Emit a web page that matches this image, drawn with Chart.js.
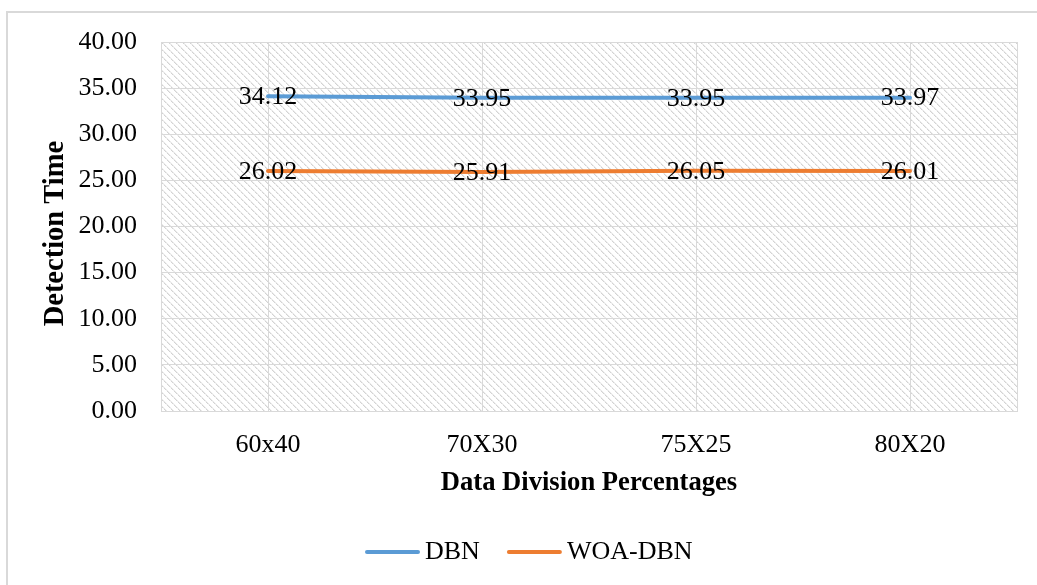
<!DOCTYPE html>
<html>
<head>
<meta charset="utf-8">
<script src="https://cdn.jsdelivr.net/npm/chart.js@4/dist/chart.umd.min.js"></script>
<style>
  html, body { margin: 0; padding: 0; background: #ffffff; overflow: hidden; }
  #wrap { position: relative; width: 1037px; height: 585px; }
</style>
</head>
<body>
<div id="wrap"><canvas id="chart" width="1037" height="585"></canvas></div>
<script>
// Detection time per train/test split
const categories = ['60x40', '70X30', '75X25', '80X20'];
const dbnTimes = [34.12, 33.95, 33.95, 33.97];
const woaDbnTimes = [26.02, 25.91, 26.05, 26.01];
const seriesNames = ['DBN', 'WOA-DBN'];
const seriesColors = ['#5B9BD5', '#ED7D31'];
const yMin = 0, yMax = 40, yStep = 5;

const SERIF = "'Liberation Serif', 'Times New Roman', serif";
const GRID = '#d9d9d9';

// Diagonal hatch fill for the plot area
function makeHatch(ctx) {
  const n = 7;
  const tile = document.createElement('canvas');
  tile.width = n; tile.height = n;
  const g = tile.getContext('2d');
  for (let i = 0; i < n; i++) {
    g.fillStyle = (i % 3 === 2) ? '#ededed' : '#d3d3d3';
    g.fillRect(i, i, 1, 1);
    g.fillStyle = '#ebebeb';
    g.fillRect((i + 1) % n, i, 1, 1);
  }
  return ctx.createPattern(tile, 'repeat');
}

const decorPlugin = {
  id: 'decor',
  beforeDraw(chart) {
    const { ctx, chartArea: a } = chart;
    ctx.save();
    // outer frame
    ctx.fillStyle = GRID;
    ctx.fillRect(6, 11, chart.width, 2);
    ctx.fillRect(6, 11, 2, chart.height);
    // hatched plot background
    ctx.fillStyle = makeHatch(ctx);
    ctx.fillRect(a.left, a.top, a.right - a.left, a.bottom - a.top);
    ctx.restore();
  },
  afterDatasetsDraw(chart) {
    const { ctx } = chart;
    ctx.save();
    ctx.font = '26px ' + SERIF;
    ctx.fillStyle = '#000000';
    ctx.textAlign = 'center';
    ctx.textBaseline = 'middle';
    chart.data.datasets.forEach((ds, i) => {
      const meta = chart.getDatasetMeta(i);
      meta.data.forEach((pt, j) => {
        ctx.fillText(ds.data[j].toFixed(2), pt.x, pt.y + 1);
      });
    });
    ctx.restore();
  },
  afterDraw(chart) {
    const { ctx, chartArea: a } = chart;
    ctx.save();
    // right edge of the plot box
    ctx.strokeStyle = GRID;
    ctx.lineWidth = 1;
    ctx.beginPath();
    ctx.moveTo(Math.round(a.right) + 0.5, a.top);
    ctx.lineTo(Math.round(a.right) + 0.5, a.bottom);
    ctx.stroke();

    // legend
    ctx.font = '26px ' + SERIF;
    ctx.textBaseline = 'middle';
    ctx.textAlign = 'left';
    let x = 365;
    const y = 552;
    chart.data.datasets.forEach((ds) => {
      ctx.strokeStyle = ds.borderColor;
      ctx.lineWidth = 4;
      ctx.lineCap = 'round';
      ctx.beginPath();
      ctx.moveTo(x + 2, y);
      ctx.lineTo(x + 53, y);
      ctx.stroke();
      ctx.fillStyle = '#000000';
      ctx.fillText(ds.label, x + 60, y);
      x += 60 + ctx.measureText(ds.label).width + 27;
    });
    ctx.restore();
  }
};

new Chart(document.getElementById('chart'), {
  type: 'line',
  data: {
    labels: categories,
    datasets: [
      {
        label: seriesNames[0],
        data: dbnTimes,
        borderColor: seriesColors[0],
        backgroundColor: seriesColors[0],
        borderWidth: 4,
        borderCapStyle: 'round',
        pointRadius: 0,
        tension: 0,
        fill: false
      },
      {
        label: seriesNames[1],
        data: woaDbnTimes,
        borderColor: seriesColors[1],
        backgroundColor: seriesColors[1],
        borderWidth: 4,
        borderCapStyle: 'round',
        pointRadius: 0,
        tension: 0,
        fill: false
      }
    ]
  },
  options: {
    responsive: false,
    devicePixelRatio: 1,
    animation: false,
    layout: { padding: { top: 42, right: 20, bottom: 70, left: 0 } },
    plugins: {
      legend: { display: false },
      tooltip: { enabled: false }
    },
    scales: {
      x: {
        type: 'category',
        offset: true,
        grid: { offset: false, color: GRID, lineWidth: 1, drawTicks: false },
        border: { color: GRID, width: 1 },
        ticks: { padding: 19, color: '#000000', font: { family: SERIF, size: 26 } },
        title: {
          display: true,
          text: 'Data Division Percentages',
          color: '#000000',
          font: { family: SERIF, size: 26.6, weight: 'bold' },
          padding: { top: 0, bottom: 16 }
        },
        afterFit(scale) { scale.height = 104; }
      },
      y: {
        min: yMin,
        max: yMax,
        grid: { color: GRID, lineWidth: 1, drawTicks: false },
        border: { color: GRID, width: 1 },
        ticks: {
          stepSize: yStep,
          padding: 24,
          color: '#000000',
          font: { family: SERIF, size: 26 },
          callback: (v) => Number(v).toFixed(2)
        },
        title: {
          display: true,
          text: 'Detection Time  ',
          color: '#000000',
          font: { family: SERIF, size: 28.5, weight: 'bold' },
          padding: { top: 39, bottom: 0 }
        },
        afterFit(scale) { scale.width = 161; }
      }
    }
  },
  plugins: [decorPlugin]
});
</script>
</body>
</html>
